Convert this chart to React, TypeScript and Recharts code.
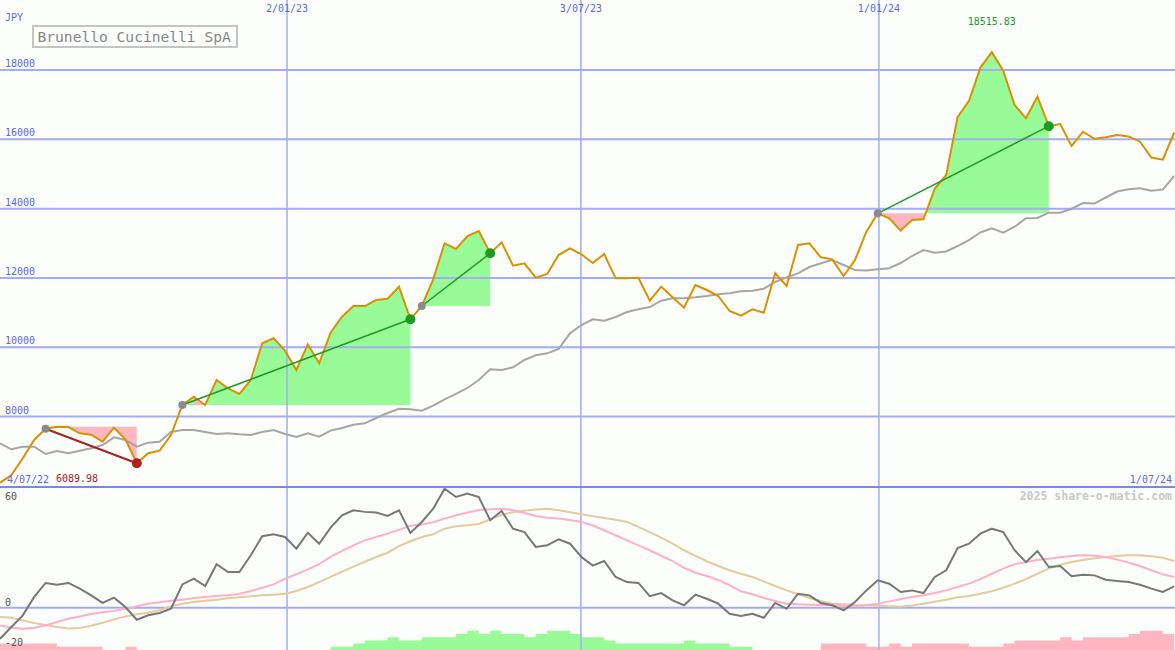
import {
  ComposedChart,
  Line,
  Area,
  XAxis,
  YAxis,
  ReferenceLine,
  ReferenceDot,
} from "recharts";

// weekly closes, JPY
const price = [
  6089.98, 6316, 6797, 7326, 7650, 7709, 7700, 7518, 7479, 7276,
  7680, 7345, 6653, 6942, 7017, 7470, 8335, 8575, 8335, 9057,
  8817, 8653, 9057, 10115, 10260, 9903, 9345, 10086, 9538, 10421,
  10884, 11191, 11191, 11364, 11402, 11750, 10807, 11191, 11961, 13000,
  12836, 13211, 13355, 12711, 13028, 12354, 12423, 12008, 12115, 12662,
  12856, 12683, 12430, 12692, 11990, 11990, 12008, 11345, 11750, 11442,
  11143, 11797, 11653, 11480, 11047, 10911, 11095, 10998, 12134, 11768,
  12951, 13000, 12596, 12538, 12057, 12518, 13335, 13866, 13722, 13364,
  13672, 13692, 14580, 14971, 16640, 17110, 18070, 18515.83, 17980, 16990,
  16606, 17231, 16380, 16442, 15810, 16220, 16015, 16060, 16125, 16085,
  15932, 15476, 15414, 16191,
];

// slow moving average (grey)
const avg = [
  7230, 7057, 7132, 7132, 6922, 7008, 6942, 7017, 7085, 7181,
  7403, 7326, 7132, 7249, 7277, 7557, 7614, 7614, 7557, 7499,
  7518, 7490, 7470, 7557, 7614, 7499, 7412, 7518, 7422, 7595,
  7672, 7767, 7807, 7960, 8104, 8228, 8211, 8171, 8315, 8500,
  8653, 8826, 9057, 9365, 9345, 9422, 9634, 9769, 9826, 9951,
  10403, 10643, 10806, 10767, 10874, 11018, 11095, 11162, 11345, 11413,
  11413, 11442, 11480, 11528, 11557, 11614, 11633, 11690, 11884, 12019,
  12134, 12316, 12423, 12518, 12374, 12230, 12215, 12250, 12280, 12432,
  12634, 12807, 12730, 12764, 12922, 13095, 13312, 13433, 13307, 13479,
  13722, 13730, 13883, 13883, 13998, 14163, 14148, 14322, 14495, 14561,
  14586, 14517, 14552, 14942,
];

// lower panel
const momentum = [
  -17.5, -10.9, -4.3, 6.1, 14.0, 13.0, 14.0, 10.8, 7.0, 2.7,
  5.7, 0.4, -6.8, -4.3, -3.0, -0.6, 13.2, 16.4, 12.3, 24.6,
  20.2, 20.2, 29.7, 40.4, 41.5, 40.0, 33.4, 42.4, 36.2, 45.3,
  52.3, 55.1, 54.2, 53.8, 51.9, 55.1, 42.3, 48.5, 56.0, 67.3,
  62.6, 64.5, 62.6, 49.5, 54.7, 44.7, 42.8, 34.4, 35.3, 38.7,
  36.2, 28.7, 23.8, 26.4, 17.4, 14.5, 14.0, 6.5, 8.3, 4.2,
  1.4, 7.4, 5.1, 2.3, -3.4, -4.7, -3.4, -5.7, 2.7, -0.6,
  7.9, 7.0, 2.7, 1.4, -1.5, 3.2, 9.8, 15.5, 13.6, 8.9,
  9.8, 8.3, 17.4, 21.2, 33.8, 36.2, 41.9, 44.7, 42.8, 32.5,
  25.8, 32.1, 23.0, 23.6, 17.8, 18.7, 18.3, 15.8, 15.1, 14.5,
  13.0, 10.8, 8.9, 12.1,
];

const fastAvg = [
  -10.0, -11.3, -11.9, -11.3, -10.0, -8.1, -6.2, -4.9, -3.6, -2.6,
  -1.9, -0.6, 0.8, 2.3, 3.1, 4.0, 4.5, 5.5, 6.1, 6.6,
  7.0, 7.9, 9.5, 11.3, 13.2, 16.4, 18.9, 21.7, 24.6, 28.7,
  32.1, 35.3, 38.1, 40.0, 41.9, 44.1, 46.4, 47.0, 48.3, 50.4,
  52.3, 53.8, 55.3, 55.7, 56.0, 55.1, 53.6, 51.9, 50.9, 50.4,
  49.6, 48.5, 46.5, 43.8, 41.0, 38.1, 35.3, 32.5, 29.4, 26.3,
  22.6, 19.8, 17.9, 15.7, 12.7, 9.3, 7.6, 5.5, 3.8, 2.3,
  1.9, 1.7, 1.5, 1.4, 1.0, 1.0, 1.4, 2.3, 3.6, 4.8,
  6.1, 7.0, 8.3, 9.8, 11.7, 13.6, 16.2, 19.2, 22.1, 24.6,
  25.8, 27.0, 27.7, 28.5, 29.3, 29.7, 29.4, 28.7, 27.2, 25.5,
  23.6, 21.2, 18.9, 17.4,
];

const slowAvg = [
  -5.3, -5.7, -7.1, -8.7, -9.8, -10.9, -11.7, -11.5, -10.2, -8.5,
  -6.6, -4.9, -3.7, -2.8, -1.3, 0.8, 2.3, 3.2, 4.0, 4.5,
  5.3, 5.9, 6.5, 7.0, 7.4, 7.9, 9.5, 11.7, 14.5, 17.5,
  20.4, 23.2, 26.0, 28.7, 31.1, 34.8, 37.6, 40.0, 41.5, 44.7,
  46.1, 46.6, 47.4, 50.0, 52.6, 54.0, 54.9, 55.5, 56.0, 55.1,
  54.0, 52.8, 51.8, 50.8, 49.8, 48.5, 45.7, 42.8, 39.6, 36.2,
  32.5, 29.3, 26.3, 23.6, 21.2, 19.2, 17.4, 14.9, 12.3, 9.8,
  7.6, 5.5, 3.8, 2.3, 1.9, 1.5, 1.4, 1.2, 0.8, 0.6,
  1.3, 2.3, 3.4, 4.5, 5.9, 6.6, 7.9, 9.3, 11.3, 13.6,
  16.2, 19.2, 22.1, 24.3, 25.8, 27.0, 28.0, 28.7, 29.3, 29.7,
  29.7, 29.1, 28.3, 26.4,
];

const histPink = [
  2, 2, 2, 2, 2, 1, 1, 1, 1, 0,
  0, 1, 0, 0, 0, 0, 0, 0, 0, 0,
  0, 0, 0, 0, 0, 0, 0, 0, 0, 0,
  0, 0, 0, 0, 0, 0, 0, 0, 0, 0,
  0, 0, 0, 0, 0, 0, 0, 0, 0, 0,
  0, 0, 0, 0, 0, 0, 0, 0, 0, 0,
  0, 0, 0, 0, 0, 0, 0, 0, 0, 0,
  0, 0, 2, 2, 2, 2, 1, 1, 2, 1,
  2, 2, 2, 2, 2, 1, 1, 1, 2, 3,
  3, 3, 3, 4, 3, 4, 4, 4, 4, 5,
  6, 6, 5, 5,
];

const histGreen = [
  0, 0, 0, 0, 0, 0, 0, 0, 0, 0,
  0, 0, 0, 0, 0, 0, 0, 0, 0, 0,
  0, 0, 0, 0, 0, 0, 0, 0, 0, 1,
  1, 2, 3, 3, 4, 3, 3, 4, 4, 4,
  5, 6, 5, 6, 5, 5, 4, 5, 6, 6,
  5, 4, 4, 3, 2, 2, 2, 2, 2, 2,
  3, 2, 2, 2, 1, 1, 0, 0, 0, 0,
  0, 0, 0, 0, 0, 0, 0, 0, 0, 0,
  0, 0, 0, 0, 0, 0, 0, 0, 0, 0,
  0, 0, 0, 0, 0, 0, 0, 0, 0, 0,
  0, 0, 0, 0,
];

// trend runs: start week, end week, reference level
const trendStarts = [4, 16, 37, 77];
const trendEnds = [12, 36, 43, 92];
const trendBases = [7709, 8335, 11191, 13866];
const pinkSpans = [[6, 9], [10, 12], [17, 18], [77, 81]];

const dateTicks = [25.18, 50.96, 77.1];
const dateLabels = ["2/01/23", "3/07/23", "1/01/24"];
const edgeTicks = [0, 103.07];
const edgeLabels = ["4/07/22", "1/07/24"];
const priceTicks = [8000, 10000, 12000, 14000, 16000, 18000];
const oscTicks = [60, 0, -20];

const X_END = 103.07;
const W = 1175;
const FONT = "'DejaVu Sans Mono', monospace";
const GRID = "#a3adf2";
const LABEL = "#5a68ee";
const ORANGE = "#dc9000";
const FILL_GREEN = "#98fb98";
const FILL_PINK = "#ffb6c1";
const DARK_GREEN = "#229a22";
const DARK_RED = "#a82020";

const isPinkSeg = (j: number) => pinkSpans.some(([a, b]) => j >= a && j + 1 <= b);

const rows = price.map((p, i) => {
  const row: any = {
    i,
    price: p,
    avg: avg[i],
    mom: momentum[i],
    fast: fastAvg[i],
    slow: slowAvg[i],
    hp: histPink[i],
    hg: histGreen[i],
  };
  trendStarts.forEach((s, k) => {
    const e = trendEnds[k];
    const inSeg = (j: number) => j >= s && j < e;
    const green = (inSeg(i) && !isPinkSeg(i)) || (inSeg(i - 1) && !isPinkSeg(i - 1));
    const pink = (inSeg(i) && isPinkSeg(i)) || (inSeg(i - 1) && isPinkSeg(i - 1));
    row[`g${k}`] = green ? [trendBases[k], p] : null;
    row[`p${k}`] = pink ? [trendBases[k], p] : null;
    row[`t${k}`] = i === s || i === e ? p : null;
  });
  return row;
});

const maxIdx = price.indexOf(Math.max(...price));
const minIdx = price.indexOf(Math.min(...price));

const PriceTick = (props: any) => (
  <text x={5} y={props.y - 3} fill={LABEL} fontSize={10} fontFamily={FONT}>
    {props.payload.value}
  </text>
);

const DateTick = (props: any) => (
  <text x={props.x} y={12} textAnchor="middle" fill={LABEL} fontSize={10} fontFamily={FONT}>
    {dateLabels[dateTicks.indexOf(props.payload.value)]}
  </text>
);

const EdgeTick = (props: any) => {
  const k = edgeTicks.indexOf(props.payload.value);
  return (
    <text
      x={k === 0 ? props.x + 7 : props.x - 3}
      y={483}
      textAnchor={k === 0 ? "start" : "end"}
      fill={LABEL}
      fontSize={10}
      fontFamily={FONT}
    >
      {edgeLabels[k]}
    </text>
  );
};

const OscTick = (props: any) => (
  <text
    x={5}
    y={props.payload.value < 0 ? props.y + 2.5 : props.y - 2}
    fill="#555"
    fontSize={10}
    fontFamily={FONT}
  >
    {props.payload.value}
  </text>
);

const trendDot = (k: number) => (props: any) => {
  const { cx, cy, payload } = props;
  const key = `td${k}-${payload?.i}`;
  if (cx == null || cy == null || payload?.[`t${k}`] == null) return <g key={key} />;
  const isStart = payload.i === trendStarts[k];
  const endColor = k === 0 ? "#b02020" : DARK_GREEN;
  return <circle key={key} cx={cx} cy={cy} r={isStart ? 4 : 5} fill={isStart ? "#8a8a8a" : endColor} />;
};

const zero = { top: 0, right: 0, bottom: 0, left: 0 };

export default function App() {
  return (
    <div
      style={{
        position: "relative",
        width: W,
        height: 650,
        background: "#fcfefc",
        overflow: "hidden",
        fontFamily: FONT,
      }}
    >
      <style>{"body{margin:0}"}</style>

      <ComposedChart width={W} height={486} data={rows} margin={zero}>
        <XAxis dataKey="i" type="number" domain={[0, X_END]} hide allowDataOverflow />
        <XAxis
          xAxisId="d"
          dataKey="i"
          type="number"
          domain={[0, X_END]}
          orientation="top"
          mirror
          ticks={dateTicks}
          interval={0}
          axisLine={false}
          tickLine={false}
          tick={DateTick}
          allowDataOverflow
        />
        <XAxis
          xAxisId="e"
          dataKey="i"
          type="number"
          domain={[0, X_END]}
          orientation="bottom"
          mirror
          ticks={edgeTicks}
          interval={0}
          axisLine={false}
          tickLine={false}
          tick={EdgeTick}
          allowDataOverflow
        />
        <YAxis
          domain={[5998, 20020]}
          mirror
          ticks={priceTicks}
          interval={0}
          axisLine={false}
          tickLine={false}
          tick={PriceTick}
          allowDataOverflow
        />
        {priceTicks.map((v) => (
          <ReferenceLine key={v} y={v} stroke={GRID} strokeWidth={2} />
        ))}
        {dateTicks.map((d) => (
          <ReferenceLine key={d} x={d} stroke={GRID} strokeWidth={1.5} />
        ))}

        {trendStarts.map((_, k) => (
          <Area
            key={`g${k}`}
            dataKey={`g${k}`}
            type="linear"
            stroke="none"
            fill={FILL_GREEN}
            fillOpacity={1}
            isAnimationActive={false}
          />
        ))}
        {trendStarts.map((_, k) => (
          <Area
            key={`p${k}`}
            dataKey={`p${k}`}
            type="linear"
            stroke="none"
            fill={FILL_PINK}
            fillOpacity={1}
            isAnimationActive={false}
          />
        ))}

        <Line dataKey="avg" type="linear" stroke="#a6a6a6" strokeWidth={2} dot={false} activeDot={false} isAnimationActive={false} />
        <Line dataKey="price" type="linear" stroke={ORANGE} strokeWidth={2} dot={false} activeDot={false} isAnimationActive={false} />

        {trendStarts.map((_, k) => (
          <Line
            key={`t${k}`}
            dataKey={`t${k}`}
            type="linear"
            connectNulls
            stroke={k === 0 ? DARK_RED : DARK_GREEN}
            strokeWidth={k === 0 ? 2 : 1.5}
            dot={trendDot(k)}
            activeDot={false}
            isAnimationActive={false}
          />
        ))}

        <ReferenceDot
          x={maxIdx}
          y={price[maxIdx]}
          r={0}
          fill="none"
          stroke="none"
          label={{
            value: price[maxIdx].toFixed(2),
            position: "top",
            offset: 27,
            fill: DARK_GREEN,
            fontSize: 10,
            fontFamily: FONT,
          }}
        />
        <ReferenceDot
          x={minIdx}
          y={price[minIdx]}
          r={0}
          fill="none"
          stroke="none"
          label={{
            content: (p: any) => {
              const vb = p.viewBox || { x: 0, y: 483 };
              return (
                <text x={vb.x + 56} y={vb.y - 0.5} fill={DARK_RED} fontSize={10} fontFamily={FONT}>
                  {price[minIdx].toFixed(2)}
                </text>
              );
            },
          }}
        />
      </ComposedChart>

      <div style={{ height: 2, background: "#7b86ec" }} />

      <ComposedChart width={W} height={162} data={rows} margin={zero}>
        <XAxis dataKey="i" type="number" domain={[0, X_END]} hide allowDataOverflow />
        <YAxis
          domain={[-23.9, 67.7]}
          mirror
          ticks={oscTicks}
          interval={0}
          axisLine={false}
          tickLine={false}
          tick={OscTick}
          allowDataOverflow
        />
        <YAxis yAxisId="h" domain={[0, 50.6]} hide allowDataOverflow />
        <Area
          yAxisId="h"
          dataKey="hp"
          type="stepAfter"
          stroke="none"
          fill={FILL_PINK}
          fillOpacity={1}
          isAnimationActive={false}
        />
        <Area
          yAxisId="h"
          dataKey="hg"
          type="stepAfter"
          stroke="none"
          fill={FILL_GREEN}
          fillOpacity={1}
          isAnimationActive={false}
        />
        <ReferenceLine y={0} stroke={GRID} strokeWidth={2} />
        {dateTicks.map((d) => (
          <ReferenceLine key={d} x={d} stroke={GRID} strokeWidth={1.5} />
        ))}
        <Line dataKey="slow" type="linear" stroke="#e3cb9c" strokeWidth={2} dot={false} activeDot={false} isAnimationActive={false} />
        <Line dataKey="fast" type="linear" stroke="#ffafc6" strokeWidth={2} dot={false} activeDot={false} isAnimationActive={false} />
        <Line dataKey="mom" type="linear" stroke="#777" strokeWidth={2} dot={false} activeDot={false} isAnimationActive={false} />
      </ComposedChart>

      <svg
        width={W}
        height={650}
        style={{ position: "absolute", left: 0, top: 0, pointerEvents: "none" }}
      >
        <text x={5} y={21} fill={LABEL} fontSize={10} fontFamily={FONT}>
          JPY
        </text>
        <rect x={33} y={26} width={204} height={21} fill="#fdfffd" stroke="#c4c4c4" strokeWidth={2} />
        <text x={37.5} y={42} fill="#858585" fontSize={14.6} fontFamily={FONT}>
          Brunello Cucinelli SpA
        </text>
        <text
          x={1172}
          y={500}
          textAnchor="end"
          fill="#c8c8c8"
          fontSize={11.5}
          fontWeight="bold"
          fontFamily={FONT}
        >
          2025 share-o-matic.com
        </text>
      </svg>
    </div>
  );
}
